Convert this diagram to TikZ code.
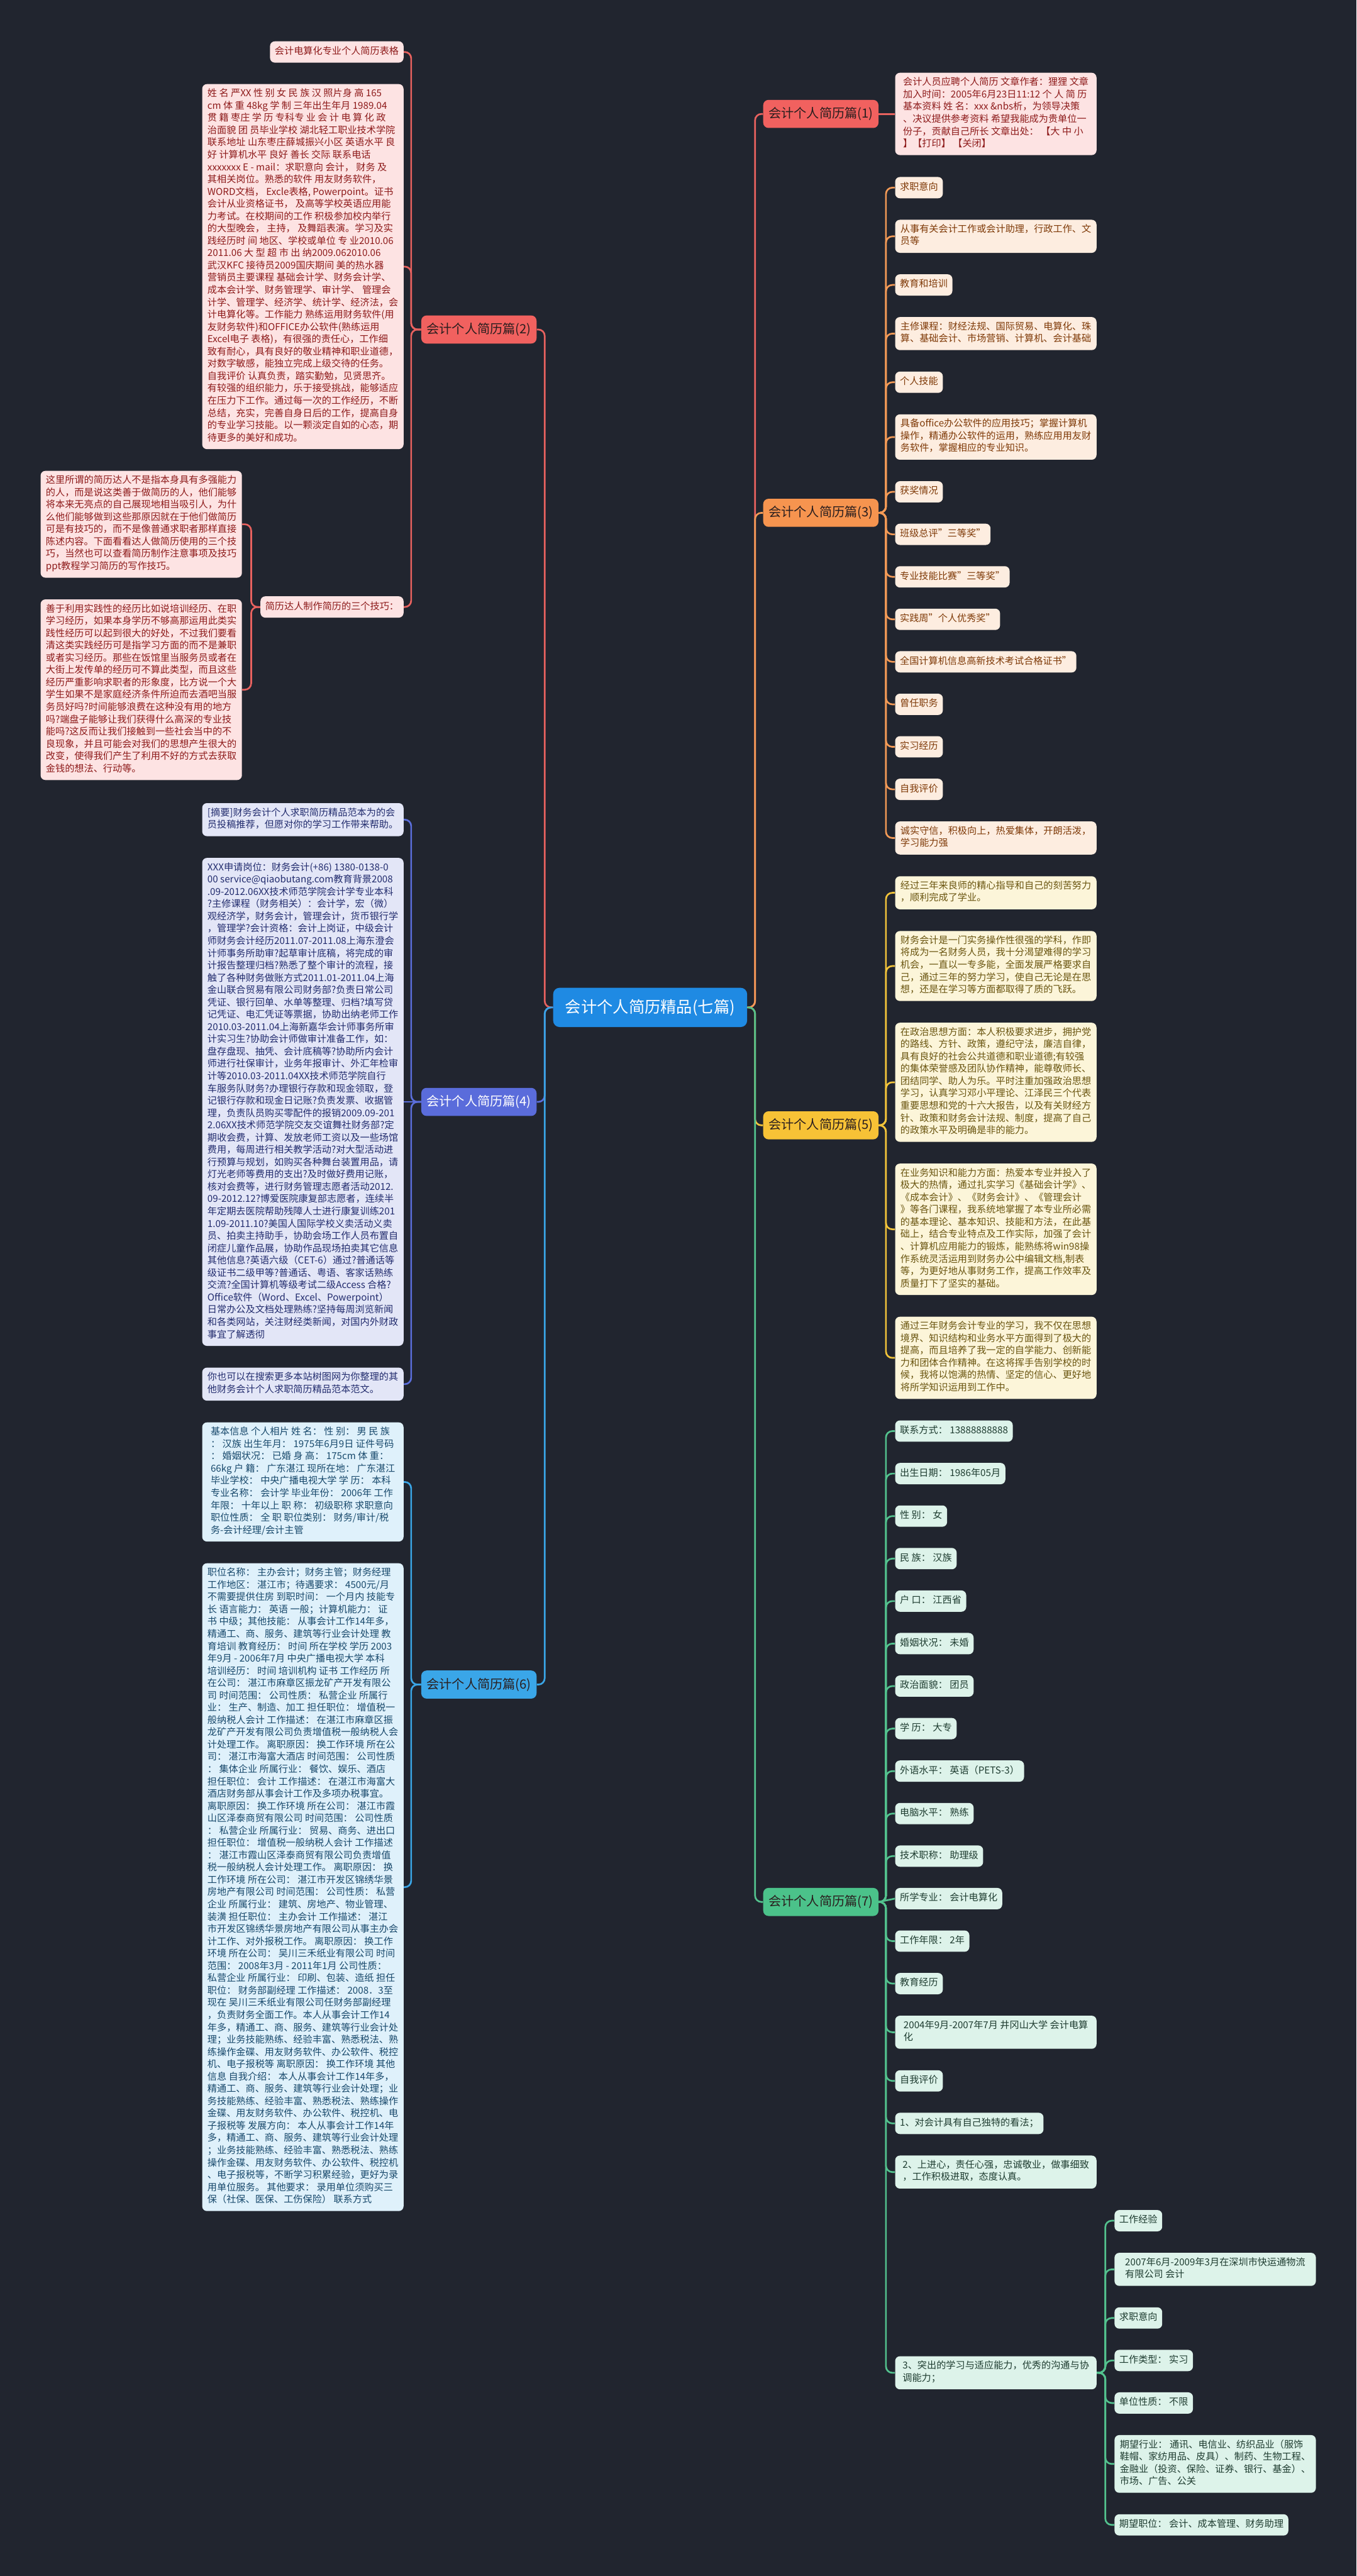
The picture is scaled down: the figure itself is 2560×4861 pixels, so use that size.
\documentclass[tikz,border=0pt]{standalone}
\usepackage{fontspec}
\setmainfont{Noto Sans CJK SC}
\definecolor{bg}{HTML}{21252F}
\definecolor{ctr}{HTML}{1F8AE3}
\definecolor{mainT}{HTML}{2A1E1E}
\definecolor{redA}{HTML}{F1615F}\definecolor{redL}{HTML}{FDE3E3}\definecolor{redT}{HTML}{8E1B1B}\definecolor{redC}{HTML}{E8625F}
\definecolor{orA}{HTML}{F6944F}\definecolor{orL}{HTML}{FDEDE0}\definecolor{orT}{HTML}{7F3A08}\definecolor{orC}{HTML}{F39A56}
\definecolor{yeA}{HTML}{F7C236}\definecolor{yeL}{HTML}{FCF5D9}\definecolor{yeT}{HTML}{6A5510}\definecolor{yeC}{HTML}{F3C43A}
\definecolor{grA}{HTML}{4BC28A}\definecolor{grL}{HTML}{DDF3EA}\definecolor{grT}{HTML}{1F3D31}\definecolor{grC}{HTML}{53C28E}
\definecolor{blA}{HTML}{5A6CDB}\definecolor{blL}{HTML}{E3E6F7}\definecolor{blT}{HTML}{222C6E}\definecolor{blC}{HTML}{5B6EDB}
\definecolor{cyA}{HTML}{3AA6E8}\definecolor{cyL}{HTML}{DFF1FB}\definecolor{cyT}{HTML}{18496C}\definecolor{cyC}{HTML}{3AA5E6}
\tikzset{
 conn/.style={line width=1.6pt, rounded corners=6pt},
 box/.style={rounded corners=4.5pt, inner xsep=4.5pt, inner ysep=4.25pt, align=left, font=\fontsize{9}{11.6}\selectfont, execute at begin node=\strut, execute at end node=\strut},
 wide/.style={minimum width=190pt},
 kR/.style={box, fill=redL, text=redT},
 kO/.style={box, fill=orL, text=orT},
 kY/.style={box, fill=yeL, text=yeT},
 kG/.style={box, fill=grL, text=grT},
 kB/.style={box, fill=blL, text=blT},
 kC/.style={box, fill=cyL, text=cyT},
 mainbox/.style={rounded corners=5pt, inner xsep=5pt, inner ysep=0pt, minimum height=26.5pt, font=\fontsize{12}{14}\selectfont},
 ctrbox/.style={rounded corners=6pt, fill=ctr, text=white, minimum width=183pt, minimum height=37pt, inner xsep=0pt, font=\fontsize{15}{18}\selectfont},
}
\newcommand\rconn[4]{\draw[conn,#1] (#2.east) -- (#3 |- #2.east) -- (#3 |- #4.west) -- (#4.west);}
\newcommand\lconn[4]{\draw[conn,#1] (#2.west) -- (#3 |- #2.west) -- (#3 |- #4.east) -- (#4.east);}
\begin{document}
\begin{tikzpicture}[x=0.5pt,y=-0.5pt]
\fill[bg] (0,0) rectangle (2560,4861);
\coordinate (sR) at (1425,0);
\coordinate (sL) at (1028,0);
\coordinate (s1) at (1672,0);
\coordinate (s8) at (2086,0);
\coordinate (s2) at (776,0);
\coordinate (s2c) at (474,0);

\node[ctrbox] (c) at (1227,1901) {会计个人简历精品(七篇)};

% ---------- right main nodes
\node[mainbox, fill=redA, text=mainT, anchor=west] (n1) at (1440,215) {会计个人简历篇(1)};
\node[mainbox, fill=orA, text=mainT, anchor=west] (n3) at (1440,967.7) {会计个人简历篇(3)};
\node[mainbox, fill=yeA, text=mainT, anchor=west] (n5) at (1440,2123.5) {会计个人简历篇(5)};
\node[mainbox, fill=grA, text=mainT, anchor=west] (n7) at (1440,3589) {会计个人简历篇(7)};
% ---------- left main nodes
\node[mainbox, fill=redA, text=mainT, anchor=east] (n2) at (1013,621.8) {会计个人简历篇(2)};
\node[mainbox, fill=blA, text=white, anchor=east] (n4) at (1013,2079.3) {会计个人简历篇(4)};
\node[mainbox, fill=cyA, text=mainT, anchor=east] (n6) at (1013,3178.8) {会计个人简历篇(6)};

% ---------- (1)
\node[kR, wide, anchor=west] (n1a) at (1689,215) {会计人员应聘个人简历 文章作者：狸狸 文章\\加入时间：2005年6月23日11:12 个 人 简 历\\ 基本资料 姓 名：xxx \&nbs析，为领导决策\\、决议提供参考资料 希望我能成为贵单位一\\份子，贡献自己所长 文章出处： 【大 中 小\\】【打印】 【关闭】};

% ---------- (3)
\node[kO, anchor=west] (n3a) at (1689,354.1) {求职意向};
\node[kO, wide, anchor=west] (n3b) at (1689,445.9) {从事有关会计工作或会计助理，行政工作、文\\员等};
\node[kO, anchor=west] (n3c) at (1689,537.7) {教育和培训};
\node[kO, wide, anchor=west] (n3d) at (1689,629.5) {主修课程：财经法规、国际贸易、电算化、珠\\算、基础会计、市场营销、计算机、会计基础};
\node[kO, anchor=west] (n3e) at (1689,721.3) {个人技能};
\node[kO, wide, anchor=west] (n3f) at (1689,824.7) {具备office办公软件的应用技巧；掌握计算机\\操作，精通办公软件的运用，熟练应用用友财\\务软件，掌握相应的专业知识。};
\node[kO, anchor=west] (n3g) at (1689,928.1) {获奖情况};
\node[kO, anchor=west] (n3h) at (1689,1008.3) {班级总评"三等奖"};
\node[kO, anchor=west] (n3i) at (1689,1088.5) {专业技能比赛"三等奖"};
\node[kO, anchor=west] (n3j) at (1689,1168.7) {实践周"个人优秀奖"};
\node[kO, anchor=west] (n3k) at (1689,1248.9) {全国计算机信息高新技术考试合格证书"};
\node[kO, anchor=west] (n3l) at (1689,1329.1) {曾任职务};
\node[kO, anchor=west] (n3m) at (1689,1409.3) {实习经历};
\node[kO, anchor=west] (n3n) at (1689,1489.5) {自我评价};
\node[kO, wide, anchor=west] (n3o) at (1689,1581.3) {诚实守信，积极向上，热爱集体，开朗活泼，\\学习能力强};

% ---------- (5)
\node[kY, wide, anchor=west] (n5a) at (1689,1684.7) {经过三年来良师的精心指导和自己的刻苦努力\\，顺利完成了学业。};
\node[kY, wide, anchor=west] (n5b) at (1689,1822.9) {财务会计是一门实务操作性很强的学科，作即\\将成为一名财务人员，我十分渴望难得的学习\\机会，一直以一专多能，全面发展严格要求自\\己，通过三年的努力学习，使自己无论是在思\\想，还是在学习等方面都取得了质的飞跃。};
\node[kY, wide, anchor=west] (n5c) at (1689,2042.3) {在政治思想方面：本人积极要求进步，拥护党\\的路线、方针、政策，遵纪守法，廉洁自律，\\具有良好的社会公共道德和职业道德;有较强\\的集体荣誉感及团队协作精神，能尊敬师长、\\团结同学、助人为乐。平时注重加强政治思想\\学习，认真学习邓小平理论、江泽民三个代表\\重要思想和党的十六大报告，以及有关财经方\\针、政策和财务会计法规、制度，提高了自己\\的政策水平及明确是非的能力。};
\node[kY, wide, anchor=west] (n5d) at (1689,2319.7) {在业务知识和能力方面：热爱本专业并投入了\\极大的热情，通过扎实学习《基础会计学》、\\《成本会计》、《财务会计》、《管理会计\\》等各门课程，我系统地掌握了本专业所必需\\的基本理论、基本知识、技能和方法，在此基\\础上，结合专业特点及工作实际，加强了会计\\、计算机应用能力的锻炼，能熟练将win98操\\作系统灵活运用到财务办公中编辑文档,制表\\等，为更好地从事财务工作，提高工作效率及\\质量打下了坚实的基础。};
\node[kY, wide, anchor=west] (n5e) at (1689,2562.3) {通过三年财务会计专业的学习，我不仅在思想\\境界、知识结构和业务水平方面得到了极大的\\提高，而且培养了我一定的自学能力、创新能\\力和团体合作精神。在这将挥手告别学校的时\\候，我将以饱满的热情、坚定的信心、更好地\\将所学知识运用到工作中。};

% ---------- (7)
\node[kG, anchor=west] (n7a) at (1689,2700.5) {联系方式： 13888888888};
\node[kG, anchor=west] (n7b) at (1689,2780.7) {出生日期： 1986年05月};
\node[kG, anchor=west] (n7c) at (1689,2860.9) {性 别： 女};
\node[kG, anchor=west] (n7d) at (1689,2941.1) {民 族： 汉族};
\node[kG, anchor=west] (n7e) at (1689,3021.3) {户 口： 江西省};
\node[kG, anchor=west] (n7f) at (1689,3101.5) {婚姻状况： 未婚};
\node[kG, anchor=west] (n7g) at (1689,3181.7) {政治面貌： 团员};
\node[kG, anchor=west] (n7h) at (1689,3261.9) {学 历： 大专};
\node[kG, anchor=west] (n7i) at (1689,3342.1) {外语水平： 英语（PETS-3）};
\node[kG, anchor=west] (n7j) at (1689,3422.3) {电脑水平： 熟练};
\node[kG, anchor=west] (n7k) at (1689,3502.5) {技术职称： 助理级};
\node[kG, anchor=west] (n7l) at (1689,3582.7) {所学专业： 会计电算化};
\node[kG, anchor=west] (n7m) at (1689,3662.9) {工作年限： 2年};
\node[kG, anchor=west] (n7n) at (1689,3743.1) {教育经历};
\node[kG, wide, anchor=west] (n7o) at (1689,3834.9) {2004年9月-2007年7月 井冈山大学 会计电算\\化};
\node[kG, anchor=west] (n7p) at (1689,3926.7) {自我评价};
\node[kG, anchor=west] (n7q) at (1689,4006.9) {1、对会计具有自己独特的看法；};
\node[kG, wide, anchor=west] (n7r) at (1689,4098.7) {2、上进心，责任心强，忠诚敬业，做事细致\\，工作积极进取，态度认真。};
\node[kG, wide, anchor=west] (n7s) at (1689,4477.5) {3、突出的学习与适应能力，优秀的沟通与协\\调能力；};
\node[kG, anchor=west] (n8a) at (2103,4190.5) {工作经验};
\node[kG, wide, anchor=west] (n8b) at (2103,4282.3) {2007年6月-2009年3月在深圳市快运通物流\\有限公司 会计};
\node[kG, anchor=west] (n8c) at (2103,4374.1) {求职意向};
\node[kG, anchor=west] (n8d) at (2103,4454.3) {工作类型： 实习};
\node[kG, anchor=west] (n8e) at (2103,4534.5) {单位性质： 不限};
\node[kG, wide, anchor=west] (n8f) at (2103,4649.5) {期望行业： 通讯、电信业、纺织品业（服饰\\鞋帽、家纺用品、皮具）、制药、生物工程、\\金融业（投资、保险、证券、银行、基金）、\\市场、广告、公关};
\node[kG, anchor=west] (n8g) at (2103,4764.5) {期望职位： 会计、成本管理、财务助理};

% ---------- (2)
\node[kR, anchor=east] (n2a) at (762,98.1) {会计电算化专业个人简历表格};
\node[kR, wide, anchor=east] (n2b) at (762,503.1) {姓 名 严XX 性 别 女 民 族 汉 照片身 高 165\\cm 体 重 48kg 学 制 三年出生年月 1989.04\\贯 籍 枣庄 学 历 专科专 业 会 计 电 算 化 政\\治面貌 团 员毕业学校 湖北轻工职业技术学院\\联系地址 山东枣庄薛城振兴小区 英语水平 良\\好 计算机水平 良好 善长 交际 联系电话\\xxxxxxx E - mail：求职意向 会计， 财务 及\\其相关岗位。熟悉的软件 用友财务软件，\\WORD文档， Excle表格, Powerpoint。证书\\ 会计从业资格证书， 及高等学校英语应用能\\力考试。在校期间的工作 积极参加校内举行\\的大型晚会， 主持， 及舞蹈表演。学习及实\\践经历时 间 地区、学校或单位 专 业2010.06\\2011.06 大 型 超 市 出 纳2009.062010.06\\武汉KFC 接待员2009国庆期间 美的热水器\\营销员主要课程 基础会计学、财务会计学、\\成本会计学、财务管理学、审计学、 管理会\\计学、管理学、经济学、统计学、经济法，会\\计电算化等。工作能力 熟练运用财务软件(用\\友财务软件)和OFFICE办公软件(熟练运用\\Excel电子 表格)，有很强的责任心，工作细\\致有耐心，具有良好的敬业精神和职业道德，\\ 对数字敏感，能独立完成上级交待的任务。\\自我评价 认真负责，踏实勤勉，见贤思齐。\\有较强的组织能力，乐于接受挑战，能够适应\\在压力下工作。通过每一次的工作经历，不断\\总结，充实，完善自身日后的工作，提高自身\\的专业学习技能。以一颗淡定自如的心态，期\\待更多的美好和成功。};
\node[kR, anchor=east] (n2c) at (762,1145.4) {简历达人制作简历的三个技巧：};
\node[kR, wide, anchor=east] (n2d) at (457,989.3) {这里所谓的简历达人不是指本身具有多强能力\\的人，而是说这类善于做简历的人，他们能够\\将本来无亮点的自己展现地相当吸引人，为什\\么他们能够做到这些那原因就在于他们做简历\\可是有技巧的，而不是像普通求职者那样直接\\陈述内容。下面看看达人做简历使用的三个技\\巧，当然也可以查看简历制作注意事项及技巧\\ppt教程学习简历的写作技巧。};
\node[kR, wide, anchor=east] (n2e) at (457,1301.5) {善于利用实践性的经历比如说培训经历、在职\\学习经历，如果本身学历不够高那运用此类实\\践性经历可以起到很大的好处，不过我们要看\\清这类实践经历可是指学习方面的而不是兼职\\或者实习经历。那些在饭馆里当服务员或者在\\大街上发传单的经历可不算此类型，而且这些\\经历严重影响求职者的形象度，比方说一个大\\学生如果不是家庭经济条件所迫而去酒吧当服\\务员好吗?时间能够浪费在这种没有用的地方\\吗?端盘子能够让我们获得什么高深的专业技\\能吗?这反而让我们接触到一些社会当中的不\\良现象，并且可能会对我们的思想产生很大的\\改变，使得我们产生了利用不好的方式去获取\\金钱的想法、行动等。};

% ---------- (4)
\node[kB, wide, anchor=east] (n4a) at (762,1546.7) {[摘要]财务会计个人求职简历精品范本为的会\\员投稿推荐，但愿对你的学习工作带来帮助。};
\node[kB, wide, anchor=east] (n4b) at (762,2079.3) {XXX申请岗位：财务会计(+86) 1380-0138-0\\00 service@qiaobutang.com教育背景2008\\.09-2012.06XX技术师范学院会计学专业本科\\?主修课程（财务相关）：会计学，宏（微）\\观经济学，财务会计，管理会计，货币银行学\\，管理学?会计资格：会计上岗证，中级会计\\师财务会计经历2011.07-2011.08上海东澄会\\计师事务所助审?起草审计底稿，将完成的审\\计报告整理归档?熟悉了整个审计的流程，接\\触了各种财务做账方式2011.01-2011.04上海\\金山联合贸易有限公司财务部?负责日常公司\\凭证、银行回单、水单等整理、归档?填写贷\\记凭证、电汇凭证等票据，协助出纳老师工作\\2010.03-2011.04上海新嘉华会计师事务所审\\计实习生?协助会计师做审计准备工作，如：\\盘存盘现、抽凭、会计底稿等?协助所内会计\\师进行社保审计，业务年报审计、外汇年检审\\计等2010.03-2011.04XX技术师范学院自行\\车服务队财务?办理银行存款和现金领取，登\\记银行存款和现金日记账?负责发票、收据管\\理，负责队员购买零配件的报销2009.09-201\\2.06XX技术师范学院交友交谊舞社财务部?定\\期收会费，计算、发放老师工资以及一些场馆\\费用，每周进行相关教学活动?对大型活动进\\行预算与规划，如购买各种舞台装置用品，请\\灯光老师等费用的支出?及时做好费用记账，\\核对会费等，进行财务管理志愿者活动2012.\\09-2012.12?博爱医院康复部志愿者，连续半\\年定期去医院帮助残障人士进行康复训练201\\1.09-2011.10?美国人国际学校义卖活动义卖\\员、拍卖主持助手，协助会场工作人员布置自\\闭症儿童作品展，协助作品现场拍卖其它信息\\其他信息?英语六级（CET-6）通过?普通话等\\级证书二级甲等?普通话、粤语、客家话熟练\\交流?全国计算机等级考试二级Access 合格?\\Office软件（Word、Excel、Powerpoint）\\日常办公及文档处理熟练?坚持每周浏览新闻\\和各类网站，关注财经类新闻，对国内外财政\\事宜了解透彻};
\node[kB, wide, anchor=east] (n4c) at (762,2611.9) {你也可以在搜索更多本站树图网为你整理的其\\他财务会计个人求职简历精品范本范文。};

% ---------- (6)
\node[kC, wide, anchor=east] (n6a) at (762,2796.5) {基本信息 个人相片 姓 名： 性 别： 男 民 族\\： 汉族 出生年月： 1975年6月9日 证件号码\\： 婚姻状况： 已婚 身 高： 175cm 体 重：\\66kg 户 籍： 广东湛江 现所在地： 广东湛江\\ 毕业学校： 中央广播电视大学 学 历： 本科\\专业名称： 会计学 毕业年份： 2006年 工作\\年限： 十年以上 职 称： 初级职称 求职意向\\职位性质： 全 职 职位类别： 财务/审计/税\\务-会计经理/会计主管};
\node[kC, wide, anchor=east] (n6b) at (762,3561.1) {职位名称： 主办会计；财务主管；财务经理\\工作地区： 湛江市；待遇要求： 4500元/月\\不需要提供住房 到职时间： 一个月内 技能专\\长 语言能力： 英语 一般；计算机能力： 证\\书 中级；其他技能： 从事会计工作14年多，\\精通工、商、服务、建筑等行业会计处理 教\\育培训 教育经历： 时间 所在学校 学历 2003\\年9月 - 2006年7月 中央广播电视大学 本科\\培训经历： 时间 培训机构 证书 工作经历 所\\在公司： 湛江市麻章区振龙矿产开发有限公\\司 时间范围： 公司性质： 私营企业 所属行\\业： 生产、制造、加工 担任职位： 增值税一\\般纳税人会计 工作描述： 在湛江市麻章区振\\龙矿产开发有限公司负责增值税一般纳税人会\\计处理工作。 离职原因： 换工作环境 所在公\\司： 湛江市海富大酒店 时间范围： 公司性质\\： 集体企业 所属行业： 餐饮、娱乐、酒店\\担任职位： 会计 工作描述： 在湛江市海富大\\酒店财务部从事会计工作及多项办税事宜。\\离职原因： 换工作环境 所在公司： 湛江市霞\\山区泽泰商贸有限公司 时间范围： 公司性质\\： 私营企业 所属行业： 贸易、商务、进出口\\ 担任职位： 增值税一般纳税人会计 工作描述\\： 湛江市霞山区泽泰商贸有限公司负责增值\\税一般纳税人会计处理工作。 离职原因： 换\\工作环境 所在公司： 湛江市开发区锦绣华景\\房地产有限公司 时间范围： 公司性质： 私营\\企业 所属行业： 建筑、房地产、物业管理、\\装潢 担任职位： 主办会计 工作描述： 湛江\\市开发区锦绣华景房地产有限公司从事主办会\\计工作、对外报税工作。 离职原因： 换工作\\环境 所在公司： 吴川三禾纸业有限公司 时间\\范围： 2008年3月 - 2011年1月 公司性质：\\私营企业 所属行业： 印刷、包装、造纸 担任\\职位： 财务部副经理 工作描述： 2008．3至\\现在 吴川三禾纸业有限公司任财务部副经理\\，负责财务全面工作。本人从事会计工作14\\年多，精通工、商、服务、建筑等行业会计处\\理；业务技能熟练、经验丰富、熟悉税法、熟\\练操作金碟、用友财务软件、办公软件、税控\\机、电子报税等 离职原因： 换工作环境 其他\\信息 自我介绍： 本人从事会计工作14年多，\\精通工、商、服务、建筑等行业会计处理；业\\务技能熟练、经验丰富、熟悉税法、熟练操作\\金碟、用友财务软件、办公软件、税控机、电\\子报税等 发展方向： 本人从事会计工作14年\\多，精通工、商、服务、建筑等行业会计处理\\；业务技能熟练、经验丰富、熟悉税法、熟练\\操作金碟、用友财务软件、办公软件、税控机\\、电子报税等，不断学习积累经验，更好为录\\用单位服务。 其他要求： 录用单位须购买三\\保（社保、医保、工伤保险） 联系方式};

% ---------- connectors
\rconn{redC}{c}{sR}{n1}
\rconn{orC}{c}{sR}{n3}
\rconn{yeC}{c}{sR}{n5}
\rconn{grC}{c}{sR}{n7}
\lconn{redC}{c}{sL}{n2}
\lconn{blC}{c}{sL}{n4}
\lconn{cyC}{c}{sL}{n6}
\draw[conn,redC] (n1.east) -- (n1a.west);
\foreach \k in {a,b,c,d,e,f,g,h,i,j,k,l,m,n,o} {\rconn{orC}{n3}{s1}{n3\k}}
\foreach \k in {a,b,c,d,e} {\rconn{yeC}{n5}{s1}{n5\k}}
\foreach \k in {a,b,c,d,e,f,g,h,i,j,k,m,n,o,p,q,r,s} {\rconn{grC}{n7}{s1}{n7\k}}
\draw[conn,grC] (n7.east) -- (n7l.west);
\foreach \k in {a,b,c,d,e,f,g} {\rconn{grC}{n7s}{s8}{n8\k}}
\foreach \k in {a,b,c} {\lconn{redC}{n2}{s2}{n2\k}}
\foreach \k in {d,e} {\lconn{redC}{n2c}{s2c}{n2\k}}
\lconn{blC}{n4}{s2}{n4a}
\lconn{blC}{n4}{s2}{n4c}
\draw[conn,blC] (n4.west) -- (n4b.east);
\foreach \k in {a,b} {\lconn{cyC}{n6}{s2}{n6\k}}
\end{tikzpicture}
\end{document}
